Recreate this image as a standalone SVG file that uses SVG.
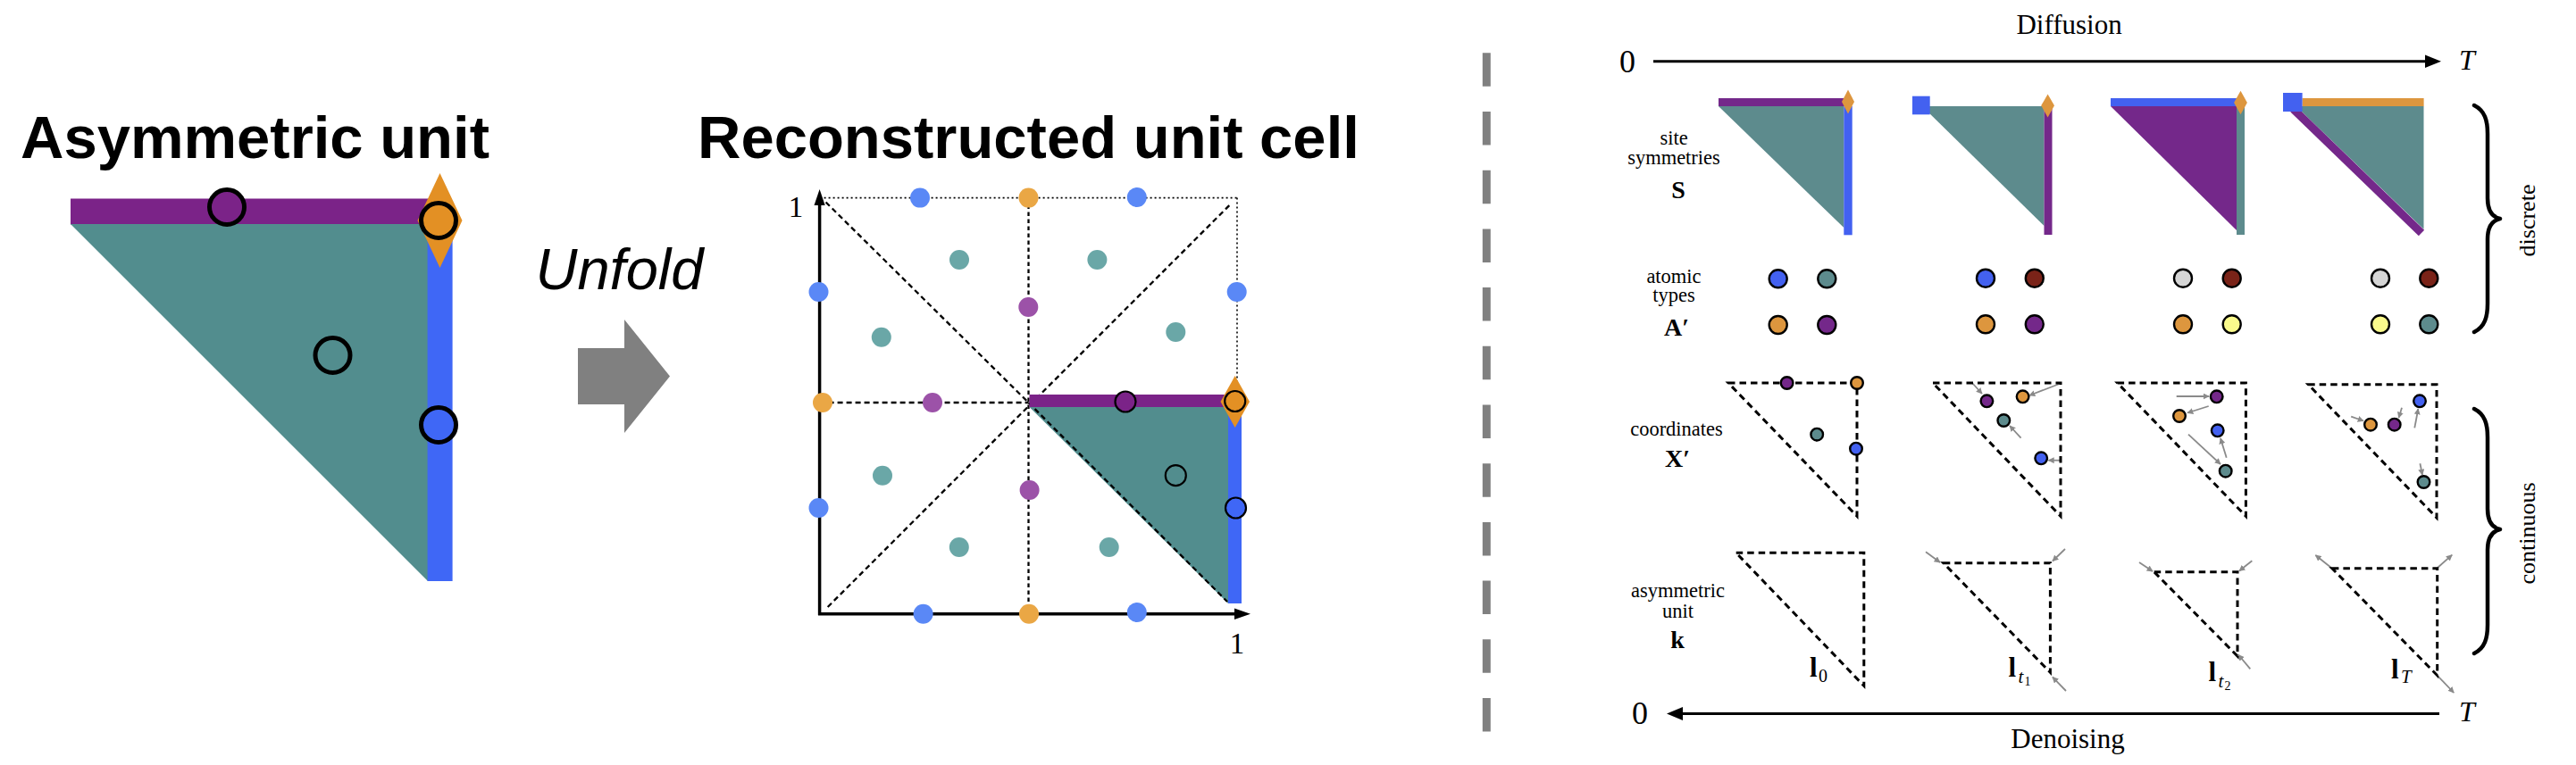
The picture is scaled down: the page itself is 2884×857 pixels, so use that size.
<svg xmlns="http://www.w3.org/2000/svg" width="2884" height="857" viewBox="0 0 2884 857">
<defs>
<style>
.h{font-family:"Liberation Sans",Arial,sans-serif;font-weight:bold;font-size:67px;fill:#000}
.it{font-family:"Liberation Sans",Arial,sans-serif;font-style:italic;font-size:65px;fill:#000}
.s{font-family:"Liberation Serif","DejaVu Serif",serif;fill:#000}
.lab{font-size:22.5px;text-anchor:middle}
.sym{font-size:28px;font-weight:bold;text-anchor:middle}
.dt{fill:none;stroke:#000;stroke-width:3;stroke-dasharray:7.5 5}
.cd{fill:none;stroke:#000;stroke-width:2.3;stroke-dasharray:6 4}
.fd{fill:none;stroke:#000;stroke-width:1.6;stroke-dasharray:2 3}
.at{stroke:#000;stroke-width:2.4}
.ca{stroke:#000;stroke-width:2.2}
.big{stroke:#000;stroke-width:5}
.ga{stroke:#8a8a8a;stroke-width:1.8;fill:none;marker-end:url(#gah)}
.brace{fill:none;stroke:#000;stroke-width:4.5;stroke-linecap:round;stroke-linejoin:round}
.pu{fill:#7b2388}.te{fill:#528d8e}.bl{fill:#3f67f6}.or{fill:#e39024}
.pu2{fill:#74288a}.te2{fill:#5d8b8d}.bl2{fill:#4361f0}.or2{fill:#dd963e}.rd{fill:#7a2318}.gy{fill:#d6d6d6}.ye{fill:#fafa8c}
.lb{fill:#5a88f6}.lo{fill:#eaa745}.lt{fill:#6aa7a7}.lp{fill:#9c52a8}
</style>
<marker id="gah" viewBox="0 0 10 10" refX="9" refY="5" markerWidth="7" markerHeight="7" markerUnits="userSpaceOnUse" orient="auto">
<path d="M0,0 L10,5 L0,10 z" fill="#8a8a8a"/>
</marker>
</defs>
<rect width="2884" height="857" fill="#fff"/>

<!-- Left: asymmetric unit -->
<g id="asym-unit">
<text class="h" x="23" y="176.5">Asymmetric unit</text>
<rect class="pu" x="79" y="222.5" width="401" height="29"/>
<polygon class="te" points="79,251 479,251 479,651"/>
<rect class="bl" x="478.6" y="251" width="28" height="400"/>
<polygon class="or" points="492.5,194 517.5,247 492.5,300 467.5,247"/>
<circle class="or big" cx="491" cy="247" r="19.5"/>
<circle class="pu big" cx="254" cy="232" r="19.5"/>
<circle class="big" cx="372.5" cy="398" r="19.5" fill="none"/>
<circle class="bl big" cx="491" cy="476" r="19.5"/>
</g>

<g id="unfold">
<text class="it" x="599.5" y="324">Unfold</text>
<polygon fill="#808080" points="647,390 699,390 699,358 750,421.5 699,485 699,453 647,453"/>
</g>

<!-- Reconstructed unit cell -->
<g id="unit-cell">
<text class="h" x="781" y="176.5">Reconstructed unit cell</text>
<line class="fd" x1="917.6" y1="221.6" x2="1385" y2="221.6"/>
<line class="fd" x1="1385" y1="221.6" x2="1385" y2="450"/>
<line class="cd" x1="1151.5" y1="221.6" x2="1151.5" y2="687.7" style="stroke-dasharray:4.5 3.5"/>
<line class="cd" x1="917.6" y1="451" x2="1151.5" y2="451"/>
<line class="cd" x1="924.6" y1="226.5" x2="1151.5" y2="451"/>
<line class="cd" x1="926.7" y1="680" x2="1376.4" y2="230"/>
<polygon class="te" points="1152.5,456 1375,456 1375,676"/>
<line class="cd" x1="1151.5" y1="451" x2="1374" y2="674"/>
<rect class="pu" x="1152.5" y="442" width="224" height="14"/>
<rect class="bl" x="1375" y="456" width="15" height="220"/>
<polygon class="or" points="1382.7,421 1399,450 1382.7,479 1366.5,450"/>
<line x1="917.6" y1="689" x2="917.6" y2="228" stroke="#000" stroke-width="3.5"/>
<polygon points="917.6,212 911.5,230 923.7,230" fill="#000"/>
<line x1="916" y1="687.7" x2="1385" y2="687.7" stroke="#000" stroke-width="3.5"/>
<polygon points="1400,687.7 1382,681.5 1382,693.9" fill="#000"/>
<g id="cell-dots">
<circle class="lb" cx="1030" cy="221.6" r="11"/>
<circle class="lb" cx="1272.8" cy="221" r="11"/>
<circle class="lb" cx="916.5" cy="327" r="11"/>
<circle class="lb" cx="1384.7" cy="327" r="11"/>
<circle class="lb" cx="916.5" cy="569" r="11"/>
<circle class="lb" cx="1033.6" cy="687.7" r="11"/>
<circle class="lb" cx="1272.8" cy="686" r="11"/>
<circle class="lo" cx="1151.5" cy="221.6" r="11"/>
<circle class="lo" cx="921" cy="451" r="11"/>
<circle class="lo" cx="1152" cy="687.7" r="11"/>
<circle class="lt" cx="1074" cy="291" r="11"/>
<circle class="lt" cx="1228.4" cy="291" r="11"/>
<circle class="lt" cx="986.8" cy="377.7" r="11"/>
<circle class="lt" cx="1316.3" cy="372" r="11"/>
<circle class="lt" cx="988" cy="532.7" r="11"/>
<circle class="lt" cx="1073.8" cy="613" r="11"/>
<circle class="lt" cx="1241.7" cy="613" r="11"/>
<circle class="lp" cx="1151.3" cy="344" r="11"/>
<circle class="lp" cx="1044" cy="451" r="11"/>
<circle class="lp" cx="1152.6" cy="549" r="11"/>
</g>
<circle class="pu ca" cx="1260" cy="450" r="11.5"/>
<circle class="or ca" cx="1382.7" cy="449.5" r="11.5"/>
<circle class="ca" cx="1316.3" cy="532.7" r="11.5" fill="none"/>
<circle class="bl ca" cx="1383.5" cy="569" r="11.5"/>
<text class="s" x="891" y="242.7" font-size="33" text-anchor="middle">1</text>
<text class="s" x="1385" y="732" font-size="33" text-anchor="middle">1</text>
</g>

<!-- divider -->
<line id="divider" x1="1664.3" y1="59.3" x2="1664.3" y2="820" stroke="#808080" stroke-width="9" stroke-dasharray="37.5 28.2"/>

<!-- Right panel labels -->
<g id="timeline-labels">
<text class="s" x="2316.6" y="38.3" font-size="31" text-anchor="middle">Diffusion</text>
<text class="s" x="1822" y="80.5" font-size="36" text-anchor="middle">0</text>
<text class="s" x="2753" y="78" font-size="32" font-style="italic">T</text>
<text class="s" x="1836" y="811" font-size="36" text-anchor="middle">0</text>
<text class="s" x="2753" y="808" font-size="32" font-style="italic">T</text>
<text class="s" x="2315" y="838.3" font-size="31" text-anchor="middle">Denoising</text>
</g>

<g id="row-labels">
<text class="s lab" x="1874" y="161.7">site</text>
<text class="s lab" x="1874" y="184">symmetries</text>
<text class="s sym" x="1879" y="221.7">S</text>
<text class="s lab" x="1874" y="317">atomic</text>
<text class="s lab" x="1874" y="338">types</text>
<text class="s sym" x="1877" y="376">A′</text>
<text class="s lab" x="1877" y="488.3">coordinates</text>
<text class="s sym" x="1878" y="523">X′</text>
<text class="s lab" x="1878.5" y="669.3">asymmetric</text>
<text class="s lab" x="1878.5" y="691.7">unit</text>
<text class="s sym" x="1878" y="726">k</text>
</g>

<!-- site symmetries row -->
<g id="S-col1">
<rect class="pu2" x="1924" y="110" width="145" height="9"/>
<polygon class="te2" points="1924,119 2064.3,119 2064.3,255"/>
<rect class="bl2" x="2064.3" y="119" width="9.4" height="144.3"/>
<polygon class="or2" points="2069,100.5 2076,114 2069,127.5 2062,114"/>
</g>
<g id="S-col2">
<polygon class="te2" points="2152,119 2288.5,119 2288.5,253"/>
<rect class="bl2" x="2141" y="107.7" width="19.7" height="20.6"/>
<rect class="pu2" x="2288.5" y="119" width="9" height="144"/>
<polygon class="or2" points="2292.6,105.5 2300,118.3 2292.6,131.5 2285.2,118.3"/>
</g>
<g id="S-col3">
<rect class="bl2" x="2363" y="110" width="142" height="9"/>
<polygon class="pu2" points="2363,119 2504,119 2504,258"/>
<rect class="te2" x="2504" y="119" width="9" height="144"/>
<polygon class="or2" points="2508.5,101.7 2515.9,115 2508.5,128.3 2501.1,115"/>
</g>
<g id="S-col4">
<rect class="or2" x="2577.6" y="110" width="136" height="9"/>
<polygon class="te2" points="2570.6,119 2713.5,119 2713.5,256.7"/>
<line x1="2567.5" y1="122.2" x2="2711" y2="261" stroke="#74288a" stroke-width="9"/>
<rect class="bl2" x="2556" y="104" width="21.6" height="21"/>
</g>

<!-- atomic types row -->
<g id="A-col1">
<circle class="bl2 at" cx="1990.7" cy="312.3" r="10"/>
<circle class="te2 at" cx="2045.3" cy="312.3" r="10"/>
<circle class="or2 at" cx="1990.7" cy="364" r="10"/>
<circle class="pu2 at" cx="2045.3" cy="364" r="10"/>
</g>
<g id="A-col2">
<circle class="bl2 at" cx="2223" cy="311.7" r="10"/>
<circle class="rd at" cx="2277.8" cy="311.7" r="10"/>
<circle class="or2 at" cx="2223" cy="363.3" r="10"/>
<circle class="pu2 at" cx="2277.8" cy="363.3" r="10"/>
</g>
<g id="A-col3">
<circle class="gy at" cx="2444" cy="311.7" r="10"/>
<circle class="rd at" cx="2498.7" cy="311.7" r="10"/>
<circle class="or2 at" cx="2444" cy="363.3" r="10"/>
<circle class="ye at" cx="2498.7" cy="363.3" r="10"/>
</g>
<g id="A-col4">
<circle class="gy at" cx="2665" cy="311.7" r="10"/>
<circle class="rd at" cx="2719.3" cy="311.7" r="10"/>
<circle class="ye at" cx="2665" cy="363.3" r="10"/>
<circle class="te2 at" cx="2719.3" cy="363.3" r="10"/>
</g>

<!-- connectors -->
<g id="connectors">
<line x1="1851" y1="68.8" x2="2717" y2="68.8" stroke="#000" stroke-width="3"/>
<polygon points="2733,68.8 2715,61.5 2715,76.1" fill="#000"/>
<line x1="1882" y1="799.5" x2="2731" y2="799.5" stroke="#000" stroke-width="3"/>
<polygon points="1866,799.5 1884,792 1884,807" fill="#000"/>
<line class="ga" x1="2208" y1="429" x2="2219" y2="441"/>
<line class="ga" x1="2305.7" y1="430" x2="2272" y2="443"/>
<line class="ga" x1="2262.6" y1="490.7" x2="2250" y2="477"/>
<line class="ga" x1="2307.8" y1="515.7" x2="2293.4" y2="515.7"/>
<line class="ga" x1="2436.7" y1="444" x2="2473" y2="444"/>
<line class="ga" x1="2472.7" y1="455" x2="2449" y2="462.5"/>
<line class="ga" x1="2450" y1="486.7" x2="2486" y2="520"/>
<line class="ga" x1="2492.7" y1="512.7" x2="2486" y2="491"/>
<line class="ga" x1="2632.2" y1="466.7" x2="2646" y2="471.5"/>
<line class="ga" x1="2689" y1="456.7" x2="2685.5" y2="468"/>
<line class="ga" x1="2703.3" y1="479.3" x2="2707.3" y2="458"/>
<line class="ga" x1="2709.4" y1="519.3" x2="2712" y2="532"/>
<line class="ga" x1="2156" y1="618.3" x2="2172" y2="630"/>
<line class="ga" x1="2312" y1="615" x2="2298" y2="628.5"/>
<line class="ga" x1="2313" y1="774" x2="2298" y2="758.5"/>
<line class="ga" x1="2395" y1="630" x2="2410" y2="640"/>
<line class="ga" x1="2521.3" y1="628.3" x2="2507" y2="639.5"/>
<line class="ga" x1="2519.3" y1="749.3" x2="2506" y2="733.5"/>
<line class="ga" x1="2610" y1="636" x2="2592.4" y2="622"/>
<line class="ga" x1="2729" y1="636" x2="2745.2" y2="621.7"/>
<line class="ga" x1="2729" y1="757" x2="2747.2" y2="776"/>
</g>

<!-- coordinates row -->
<g id="X-col1">
<path class="dt" d="M1935,429 L2079,429 L2079,578.3 Z"/>
<circle class="pu2 at" cx="2000.6" cy="429" r="6.8"/>
<circle class="or2 at" cx="2079" cy="429" r="6.8"/>
<circle class="te2 at" cx="2034.2" cy="486.7" r="6.8"/>
<circle class="bl2 at" cx="2078" cy="502.7" r="6.8"/>
</g>
<g id="X-col2">
<path class="dt" d="M2164,429 L2307,429 L2307,578.3 Z"/>
<circle class="pu2 at" cx="2224.4" cy="449.3" r="6.8"/>
<circle class="or2 at" cx="2264.6" cy="444.3" r="6.8"/>
<circle class="te2 at" cx="2243.3" cy="471" r="6.8"/>
<circle class="bl2 at" cx="2285.2" cy="513.3" r="6.8"/>
</g>
<g id="X-col3">
<path class="dt" d="M2370.6,429 L2514.4,429 L2514.4,578.3 Z"/>
<circle class="pu2 at" cx="2481.7" cy="444.3" r="6.8"/>
<circle class="or2 at" cx="2440" cy="466" r="6.8"/>
<circle class="bl2 at" cx="2482.7" cy="482.3" r="6.8"/>
<circle class="te2 at" cx="2491.7" cy="527.7" r="6.8"/>
</g>
<g id="X-col4">
<path class="dt" d="M2584.2,430.7 L2728,430.7 L2728,580 Z"/>
<circle class="bl2 at" cx="2709" cy="449.3" r="6.8"/>
<circle class="or2 at" cx="2654" cy="475.7" r="6.8"/>
<circle class="pu2 at" cx="2680.7" cy="475.7" r="6.8"/>
<circle class="te2 at" cx="2713.5" cy="540" r="6.8"/>
</g>

<!-- asymmetric unit (lattice) row -->
<g id="k-col1">
<path class="dt" d="M1943.7,619.3 L2086.8,619.3 L2086.8,768.3 Z"/>
<text class="s" x="2026" y="758.3" font-size="31" font-weight="bold">l</text>
<text class="s" x="2036" y="764" font-size="20">0</text>
</g>
<g id="k-col2">
<path class="dt" d="M2175.8,630.7 L2295.4,630.7 L2295.4,753.3 Z"/>
<text class="s" x="2248.5" y="758.3" font-size="31" font-weight="bold">l</text>
<text class="s" x="2259.5" y="765" font-size="21" font-style="italic">t</text>
<text class="s" x="2266.5" y="768" font-size="14">1</text>
</g>
<g id="k-col3">
<path class="dt" d="M2411.7,640.7 L2505,640.7 L2505,735 Z"/>
<text class="s" x="2472.5" y="762.7" font-size="31" font-weight="bold">l</text>
<text class="s" x="2483.5" y="769.5" font-size="21" font-style="italic">t</text>
<text class="s" x="2490.5" y="772.5" font-size="14">2</text>
</g>
<g id="k-col4">
<path class="dt" d="M2610.9,636.7 L2728.7,636.7 L2728.7,756.7 Z"/>
<text class="s" x="2677" y="760" font-size="31" font-weight="bold">l</text>
<text class="s" x="2688" y="765" font-size="21" font-style="italic">T</text>
</g>

<!-- braces -->
<g id="brace-discrete">
<path class="brace" d="M2770,118 C2782,124 2785,135 2785,150 L2785,222 C2785,235 2790,243 2799,245 C2790,247 2785,255 2785,268 L2785,340 C2785,355 2782,366 2770,372"/>
<text class="s" transform="translate(2838,247) rotate(-90)" font-size="26" text-anchor="middle">discrete</text>
</g>
<g id="brace-continuous">
<path class="brace" d="M2770,458 C2782,464 2785,475 2785,490 L2785,570 C2785,583 2790,591 2799,593 C2790,595 2785,603 2785,616 L2785,700 C2785,715 2782,726 2770,732"/>
<text class="s" transform="translate(2838,597.5) rotate(-90)" font-size="26" text-anchor="middle">continuous</text>
</g>
</svg>
